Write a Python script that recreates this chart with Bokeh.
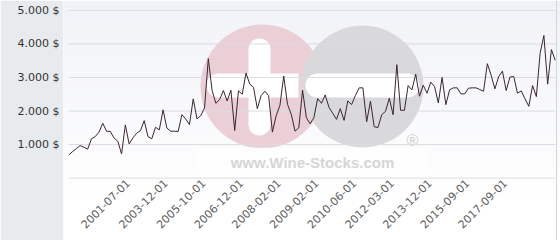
import numpy as np
from bokeh.plotting import figure
from bokeh.models import FixedTicker, Span
from bokeh.core.properties import value
from bokeh.embed import file_html
from bokeh.resources import INLINE

# ---------------- data ----------------
prices = [692, 790, 880, 969, 920, 862, 1168, 1237, 1368, 1637,
          1397, 1390, 1198, 1097, 721, 1585, 1019, 1198, 1337, 1416,
          1714, 1237, 1168, 1515, 1436, 2033, 1496, 1397, 1397, 1390,
          1893, 1764, 1595, 2361, 1764, 1863, 2093, 3560, 2610, 2230,
          2340, 2610, 2300, 2620, 1420, 2600, 2500, 3130, 2800, 2700,
          2070, 2460, 2590, 2460, 1370, 1860, 2170, 3040, 2200, 1900,
          1400, 1500, 2620, 1800, 1620, 1800, 2370, 2230, 2480, 2110,
          1930, 1750, 2070, 1720, 2300, 2190, 2460, 2690, 2690, 1680,
          2290, 1530, 1510, 1890, 1990, 2380, 1890, 3380, 2020, 2020,
          2760, 2630, 3100, 2440, 2770, 2530, 2860, 2730, 2240, 3000,
          2190, 2630, 2690, 2690, 2510, 2510, 2680, 2690, 2690, 2640,
          2590, 3410, 3070, 2660, 3020, 3190, 2610, 3010, 3030, 2530,
          2600, 2360, 2140, 2760, 2430, 3720, 4250, 2800, 3830, 3510]

tick_index = [16, 26, 36, 46, 56, 66, 76, 86, 96, 106, 116]
tick_labels = ["2001-07-01", "2003-12-01", "2005-10-01", "2006-12-01",
               "2008-02-01", "2009-02-01", "2010-06-01", "2012-03-01",
               "2013-12-01", "2015-09-01", "2017-09-01"]

y_ticks = [1000, 2000, 3000, 4000, 5000]
y_tick_labels = ["1.000 $", "2.000 $", "3.000 $", "4.000 $", "5.000 $"]
grid_values = [0, 1000, 2000, 3000, 4000, 5000]

# ---------------- geometry helpers (pixel -> data) ----------------
W, H = 560, 240
LEFT = 63
n = len(prices)
X0 = 68.3
STEP = (554.7 - 68.3) / (n - 1)
Y0 = 177.6
PPU = 33.55 / 1000.0


def xd(px):
    return (px - X0) / STEP


def yd(py):
    return (Y0 - py) / PPU


p = figure(width=W, height=H, output_backend="svg", toolbar_location=None,
           x_range=(xd(LEFT), xd(W)), y_range=(yd(H), yd(0)),
           min_border_left=LEFT, min_border_right=0, min_border_top=0,
           min_border_bottom=0, x_axis_type=None)
p.outline_line_color = None
p.border_fill_color = "#e8ebee"
p.background_fill_color = "#ffffff"
p.grid.visible = False

# gradient plot background
tops, bots, cols = [], [], []
for t in range(0, H, 8):
    f = min(t / 200.0, 1.0)
    c = tuple(int(round(a + (255 - a) * f)) for a in (241, 242, 247))
    tops.append(yd(t))
    bots.append(yd(t + 8))
    cols.append("#%02x%02x%02x" % c)
p.quad(left=xd(LEFT), right=xd(W), top=tops, bottom=bots, fill_color=cols, line_color=None)

# watermark
p.scatter(x=[xd(262)], y=[yd(86)], size=124, fill_color="#eacfd6", line_color=None)
p.scatter(x=[xd(362)], y=[yd(86)], size=122, fill_color="#d9d9dc", line_color=None)
p.rect(x=[xd(259)], y=[yd(86.5)], width=22, height=75, width_units="screen",
       height_units="screen", fill_color="white", line_color=None)
p.scatter(x=[xd(259), xd(259)], y=[yd(49), yd(124)], size=22, fill_color="white", line_color=None)
p.rect(x=[xd(258)], y=[yd(85)], width=80, height=24, width_units="screen",
       height_units="screen", fill_color="white", line_color=None)
p.scatter(x=[xd(218)], y=[yd(85)], size=24, fill_color="white", line_color=None)
p.rect(x=[xd(362)], y=[yd(85)], width=90, height=24, width_units="screen",
       height_units="screen", fill_color="white", line_color=None)
p.scatter(x=[xd(317), xd(407)], y=[yd(85), yd(85)], size=24, fill_color="white", line_color=None)
p.quad(left=xd(197), right=xd(427), top=yd(147), bottom=yd(177), fill_color="white",
       fill_alpha=0.6, line_color=None)
p.text(x=[xd(312)], y=[yd(162)], text=["www.Wine-Stocks.com"], text_align="center",
       text_baseline="middle", text_font=value("Liberation Sans"), text_font_style="bold",
       text_font_size="15px", text_color="#d6d6d6")
p.text(x=[xd(412)], y=[yd(140)], text=["®"], text_align="center", text_baseline="middle",
       text_font=value("Liberation Sans"), text_font_size="16px", text_color="#d0d0d0")

# grid lines
p.segment(x0=[0] * len(grid_values), x1=[n - 1] * len(grid_values), y0=grid_values,
          y1=grid_values, line_color="#dcdce0", line_width=1)
p.add_layout(Span(location=xd(556), dimension="height", line_color="#d4d4d8", line_width=1))

# series
p.line(x=list(range(n)), y=prices, line_color="#3a2630", line_width=1)

# x tick labels
p.text(x=tick_index, y=[0] * len(tick_index), text=tick_labels, angle=np.pi / 4,
       text_align="right", text_baseline="middle", x_offset=-1, y_offset=3,
       text_font=value("DejaVu Sans"), text_font_size="11px", text_color="#606060")

# y axis
ya = p.yaxis[0]
ya.ticker = FixedTicker(ticks=y_ticks)
ya.major_label_overrides = {t: l for t, l in zip(y_ticks, y_tick_labels)}
ya.axis_line_color = None
ya.major_tick_line_color = None
ya.minor_tick_line_color = None
ya.major_tick_out = 0
ya.major_label_standoff = 4
ya.major_label_text_font = "DejaVu Sans"
ya.major_label_text_font_size = "11px"
ya.major_label_text_color = "#333333"

open("out.html", "w").write(file_html(p, INLINE))
